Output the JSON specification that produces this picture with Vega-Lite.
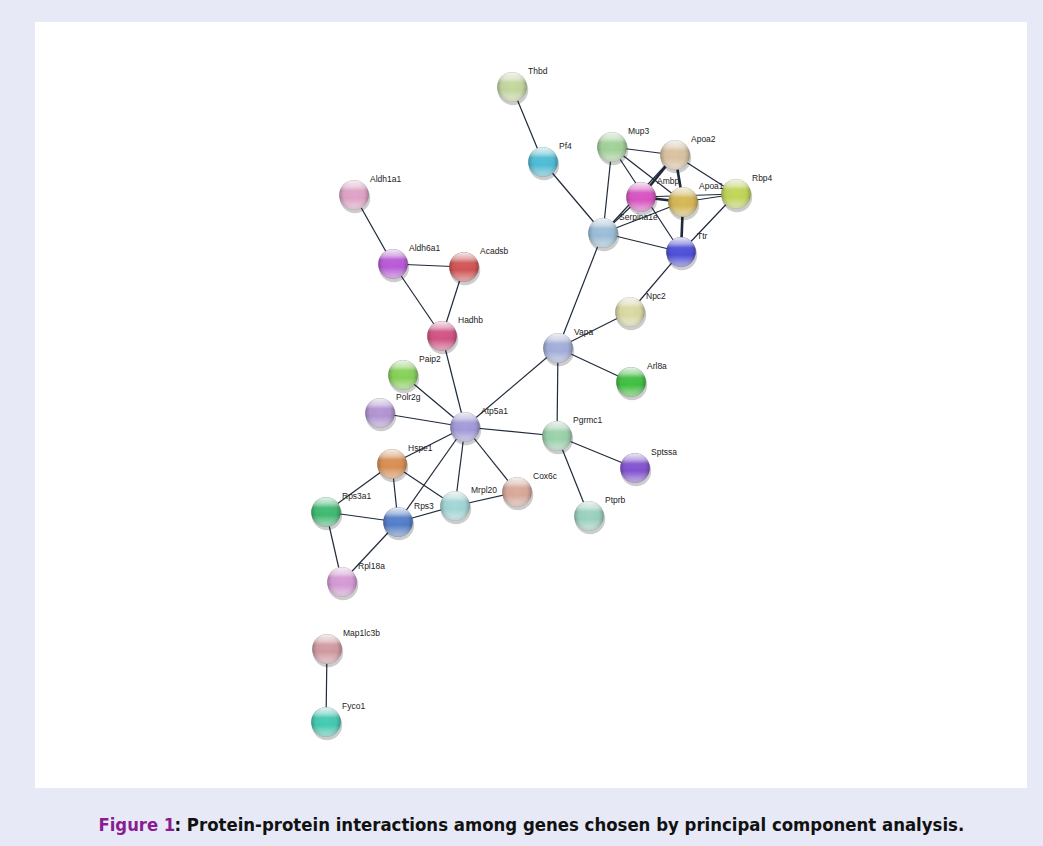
{
  "$schema": "https://vega.github.io/schema/vega-lite/v6.json",
  "autosize": {"type": "none"},
  "width": 992,
  "height": 766,
  "padding": {"left": 35, "top": 22, "right": 16, "bottom": 58},
  "background": "#e7eaf6",
  "config": {"view": {"stroke": null, "fill": "#ffffff"}},
  "datasets": {
    "nodes": [
      {"name": "Thbd", "x": 512, "y": 87},
      {"name": "Pf4", "x": 543, "y": 162},
      {"name": "Mup3", "x": 612, "y": 147},
      {"name": "Apoa2", "x": 675, "y": 155},
      {"name": "Ambp", "x": 641, "y": 197},
      {"name": "Apoa1", "x": 683, "y": 202},
      {"name": "Rbp4", "x": 736, "y": 194},
      {"name": "Serpina1e", "x": 603, "y": 233},
      {"name": "Ttr", "x": 681, "y": 252},
      {"name": "Aldh1a1", "x": 354, "y": 195},
      {"name": "Aldh6a1", "x": 393, "y": 264},
      {"name": "Acadsb", "x": 464, "y": 267},
      {"name": "Hadhb", "x": 442, "y": 336},
      {"name": "Npc2", "x": 630, "y": 312},
      {"name": "Vapa", "x": 558, "y": 348},
      {"name": "Arl8a", "x": 631, "y": 382},
      {"name": "Paip2", "x": 403, "y": 375},
      {"name": "Polr2g", "x": 380, "y": 413},
      {"name": "Atp5a1", "x": 465, "y": 427},
      {"name": "Pgrmc1", "x": 557, "y": 436},
      {"name": "Sptssa", "x": 635, "y": 468},
      {"name": "Hspe1", "x": 392, "y": 464},
      {"name": "Cox6c", "x": 517, "y": 492},
      {"name": "Mrpl20", "x": 455, "y": 506},
      {"name": "Rps3a1", "x": 326, "y": 512},
      {"name": "Rps3", "x": 398, "y": 522},
      {"name": "Ptprb", "x": 589, "y": 516},
      {"name": "Rpl18a", "x": 342, "y": 582},
      {"name": "Map1lc3b", "x": 327, "y": 649},
      {"name": "Fyco1", "x": 326, "y": 722}
    ],
    "edges": [
      {"s": "Thbd", "t": "Pf4", "links": 1},
      {"s": "Pf4", "t": "Serpina1e", "links": 1},
      {"s": "Mup3", "t": "Serpina1e", "links": 1},
      {"s": "Mup3", "t": "Apoa2", "links": 1},
      {"s": "Mup3", "t": "Ttr", "links": 1},
      {"s": "Mup3", "t": "Apoa1", "links": 1},
      {"s": "Apoa2", "t": "Ambp", "links": 2},
      {"s": "Apoa2", "t": "Apoa1", "links": 2},
      {"s": "Apoa2", "t": "Rbp4", "links": 1},
      {"s": "Serpina1e", "t": "Apoa2", "links": 1},
      {"s": "Serpina1e", "t": "Ambp", "links": 1},
      {"s": "Ambp", "t": "Apoa1", "links": 2},
      {"s": "Ambp", "t": "Rbp4", "links": 1},
      {"s": "Apoa1", "t": "Rbp4", "links": 1},
      {"s": "Apoa1", "t": "Ttr", "links": 2},
      {"s": "Serpina1e", "t": "Ttr", "links": 1},
      {"s": "Serpina1e", "t": "Apoa1", "links": 1},
      {"s": "Rbp4", "t": "Ttr", "links": 1},
      {"s": "Ttr", "t": "Npc2", "links": 1},
      {"s": "Serpina1e", "t": "Vapa", "links": 1},
      {"s": "Vapa", "t": "Npc2", "links": 1},
      {"s": "Vapa", "t": "Arl8a", "links": 1},
      {"s": "Vapa", "t": "Pgrmc1", "links": 1},
      {"s": "Vapa", "t": "Atp5a1", "links": 1},
      {"s": "Pgrmc1", "t": "Sptssa", "links": 1},
      {"s": "Pgrmc1", "t": "Ptprb", "links": 1},
      {"s": "Pgrmc1", "t": "Atp5a1", "links": 1},
      {"s": "Aldh1a1", "t": "Aldh6a1", "links": 1},
      {"s": "Aldh6a1", "t": "Acadsb", "links": 1},
      {"s": "Aldh6a1", "t": "Hadhb", "links": 1},
      {"s": "Acadsb", "t": "Hadhb", "links": 1},
      {"s": "Hadhb", "t": "Atp5a1", "links": 1},
      {"s": "Paip2", "t": "Atp5a1", "links": 1},
      {"s": "Polr2g", "t": "Atp5a1", "links": 1},
      {"s": "Atp5a1", "t": "Hspe1", "links": 1},
      {"s": "Atp5a1", "t": "Rps3", "links": 1},
      {"s": "Atp5a1", "t": "Mrpl20", "links": 1},
      {"s": "Atp5a1", "t": "Cox6c", "links": 1},
      {"s": "Hspe1", "t": "Rps3a1", "links": 1},
      {"s": "Hspe1", "t": "Rps3", "links": 1},
      {"s": "Hspe1", "t": "Mrpl20", "links": 1},
      {"s": "Rps3a1", "t": "Rps3", "links": 1},
      {"s": "Rps3a1", "t": "Rpl18a", "links": 1},
      {"s": "Rps3", "t": "Rpl18a", "links": 1},
      {"s": "Rps3", "t": "Mrpl20", "links": 1},
      {"s": "Mrpl20", "t": "Cox6c", "links": 1},
      {"s": "Map1lc3b", "t": "Fyco1", "links": 1}
    ]
  },
  "encoding": {
    "x": {
      "field": "x", "type": "quantitative",
      "scale": {"domain": [35, 1027], "nice": false, "zero": false},
      "axis": {
        "title": "Figure 1", "labels": false, "ticks": false, "domain": false, "grid": false,
        "titleX": 63, "titleY": 42, "titleAlign": "left", "titleAnchor": null, "titleBaseline": "alphabetic",
        "titleColor": "#8a1c93", "titleFont": "Liberation Sans Narrow, DejaVu Sans Condensed, sans-serif",
        "titleFontSize": 18.3, "titleFontWeight": "bold"
      }
    },
    "y": {
      "field": "y", "type": "quantitative",
      "scale": {"domain": [22, 788], "nice": false, "zero": false, "reverse": true},
      "axis": {
        "title": ": Protein-protein interactions among genes chosen by principal component analysis.",
        "labels": false, "ticks": false, "domain": false, "grid": false,
        "titleAngle": 0, "titleX": 139, "titleY": 808, "titleAlign": "left", "titleAnchor": null, "titleBaseline": "alphabetic",
        "titleColor": "#111111", "titleFont": "Liberation Sans Narrow, DejaVu Sans Condensed, sans-serif",
        "titleFontSize": 18.4, "titleFontWeight": "bold"
      }
    }
  },
  "layer": [
    {
      "data": {"name": "edges"},
      "transform": [
        {"lookup": "s", "from": {"data": {"name": "nodes"}, "key": "name", "fields": ["x", "y"]}},
        {"lookup": "t", "from": {"data": {"name": "nodes"}, "key": "name", "fields": ["x", "y"]}, "as": ["tx", "ty"]}
      ],
      "mark": {"type": "rule", "color": "#1f2a3a"},
      "encoding": {
        "x2": {"field": "tx"},
        "y2": {"field": "ty"},
        "strokeWidth": {"field": "links", "type": "quantitative", "scale": {"domain": [1, 2], "range": [1.2, 2.6]}, "legend": null}
      }
    },
    {
      "data": {"name": "nodes"},
      "mark": {"type": "circle", "size": 930, "color": "#000000", "opacity": 0.2, "xOffset": 1, "yOffset": 3}
    },
    {
      "data": {"name": "nodes"},
      "mark": {"type": "circle", "size": 870, "opacity": 1},
      "encoding": {
        "color": {
          "field": "name", "type": "nominal", "legend": null,
          "scale": {
            "domain": ["Thbd","Pf4","Mup3","Apoa2","Ambp","Apoa1","Rbp4","Serpina1e","Ttr","Aldh1a1","Aldh6a1","Acadsb","Hadhb","Npc2","Vapa","Arl8a","Paip2","Polr2g","Atp5a1","Pgrmc1","Sptssa","Hspe1","Cox6c","Mrpl20","Rps3a1","Rps3","Ptprb","Rpl18a","Map1lc3b","Fyco1"],
            "range": ["#c6d9a0","#4fbfd8","#a4d49a","#dcc4a2","#dc55c4","#d8b956","#c2d857","#9dc0da","#5050dc","#e2a4c8","#bc5ada","#d45656","#d45486","#dcdca4","#a4b0dc","#42c242","#88d45a","#b496d6","#a49cdc","#9cd4ac","#8454d4","#dc9054","#dcaa9c","#a4d8d8","#40bc72","#5480cc","#9cd4c0","#d89cd8","#d49ca4","#44ccb4"]
          }
        }
      }
    },
    {
      "data": {"name": "nodes"},
      "mark": {
        "type": "circle", "size": 870, "opacity": 1,
        "fill": {"gradient": "radial", "x1": 0.5, "y1": 0.5, "r1": 0, "x2": 0.5, "y2": 0.5, "r2": 0.5,
          "stops": [{"offset": 0, "color": "rgba(0,0,0,0)"}, {"offset": 0.7, "color": "rgba(0,0,0,0.04)"}, {"offset": 1, "color": "rgba(0,0,0,0.24)"}]},
        "stroke": "rgba(0,0,0,0.12)", "strokeWidth": 0.8
      }
    },
    {
      "data": {"name": "nodes"},
      "mark": {
        "type": "circle", "size": 870, "opacity": 1,
        "fill": {"gradient": "linear", "x1": 0, "y1": 0, "x2": 0, "y2": 1,
          "stops": [{"offset": 0, "color": "rgba(255,255,255,0.9)"}, {"offset": 0.22, "color": "rgba(255,255,255,0.5)"}, {"offset": 0.36, "color": "rgba(255,255,255,0.05)"}, {"offset": 0.6, "color": "rgba(255,255,255,0.0)"}, {"offset": 0.88, "color": "rgba(255,255,255,0.42)"}, {"offset": 1, "color": "rgba(255,255,255,0.55)"}]}
      }
    },
    {
      "data": {"name": "nodes"},
      "mark": {"type": "text", "align": "left", "baseline": "middle", "dx": 16, "dy": -16, "font": "Liberation Sans, Arial, sans-serif", "fontSize": 8.5, "color": "#222222"},
      "encoding": {"text": {"field": "name"}}
    }
  ]
}
